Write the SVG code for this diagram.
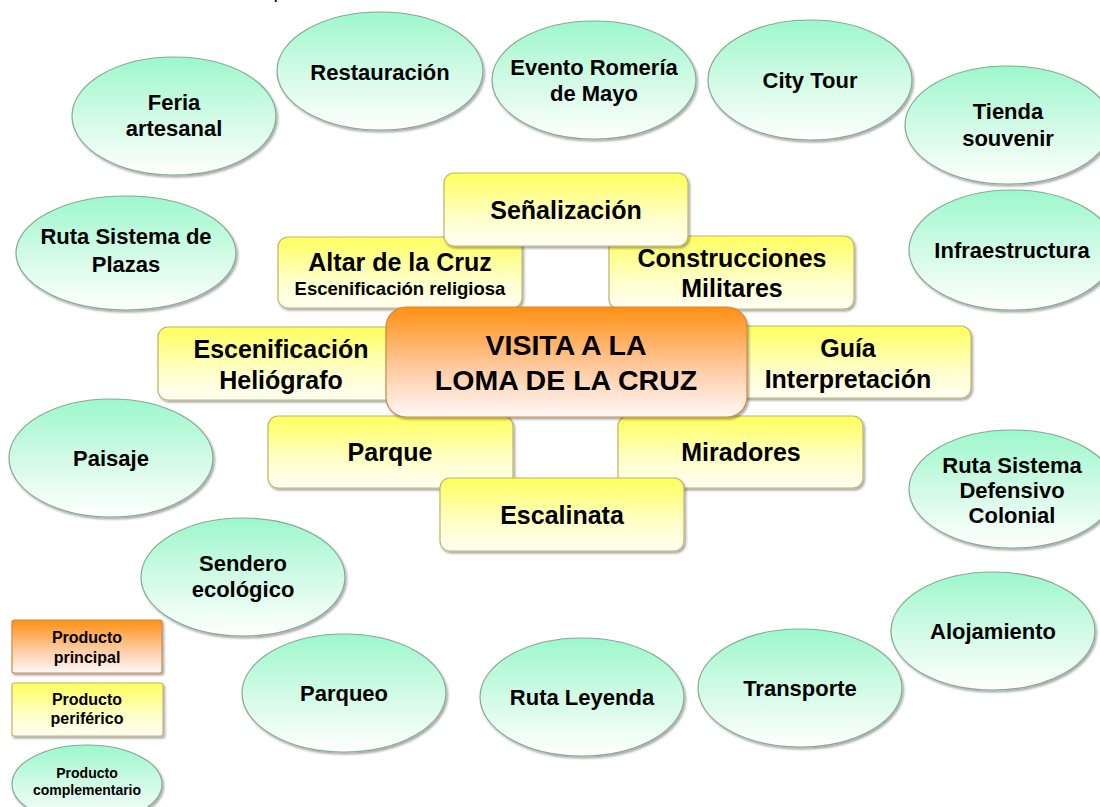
<svg xmlns="http://www.w3.org/2000/svg" width="1100" height="807" viewBox="0 0 1100 807">
<defs>
<linearGradient id="gGreen" x1="0" y1="0" x2="0" y2="1">
<stop offset="0" stop-color="#9cf8cc"/>
<stop offset="0.55" stop-color="#d6fbe8"/>
<stop offset="1" stop-color="#ffffff"/>
</linearGradient>
<linearGradient id="gYellow" x1="0" y1="0" x2="0" y2="1">
<stop offset="0" stop-color="#ffff5c"/>
<stop offset="0.6" stop-color="#ffffc8"/>
<stop offset="1" stop-color="#fffff4"/>
</linearGradient>
<linearGradient id="gOrange" x1="0" y1="0" x2="0" y2="1">
<stop offset="0" stop-color="#ff9012"/>
<stop offset="0.55" stop-color="#ffcaa0"/>
<stop offset="1" stop-color="#fff8f8"/>
</linearGradient>
<filter id="sh" x="-10%" y="-10%" width="125%" height="130%">
<feDropShadow dx="1.5" dy="2" stdDeviation="1.2" flood-color="#000" flood-opacity="0.35"/>
</filter>
<style>
.ell{fill:url(#gGreen);stroke:#86a994;stroke-width:1.2;filter:url(#sh)}
.yb{fill:url(#gYellow);stroke:#bdb56a;stroke-width:1.2;filter:url(#sh)}
.ob{fill:url(#gOrange);stroke:#c98a45;stroke-width:1.2;filter:url(#sh)}
text{font-family:"Liberation Sans",Arial,sans-serif;font-weight:bold;fill:#000;text-anchor:middle}
.t22{font-size:22px}
.t24{font-size:25px}
.t18{font-size:18.5px}
.t28{font-size:28.5px}
.t15{font-size:16px}
.t14{font-size:14px}
</style>
</defs>
<rect width="1100" height="807" fill="#fff"/>
<text x="279" y="-2" style="font-size:20px;font-weight:normal">p</text>
<g id="connectors"/>
<g id="feria"><ellipse class="ell" cx="174" cy="116" rx="102" ry="59"/><text class="t22" x="174" y="110">Feria</text><text class="t22" x="174" y="136">artesanal</text></g>
<g id="restauracion"><ellipse class="ell" cx="380" cy="71" rx="103" ry="59"/><text class="t22" x="380" y="80">Restauración</text></g>
<g id="romeria"><ellipse class="ell" cx="594" cy="80" rx="102" ry="59"/><text class="t22" x="594" y="75">Evento Romería</text><text class="t22" x="594" y="101">de Mayo</text></g>
<g id="citytour"><ellipse class="ell" cx="810" cy="80" rx="102" ry="60"/><text class="t22" x="810" y="88">City Tour</text></g>
<g id="tienda"><ellipse class="ell" cx="1008" cy="125" rx="103" ry="59"/><text class="t22" x="1008" y="119">Tienda</text><text class="t22" x="1008" y="146">souvenir</text></g>
<g id="plazas"><ellipse class="ell" cx="126" cy="253" rx="110" ry="57"/><text class="t22" x="126" y="244">Ruta Sistema de</text><text class="t22" x="126" y="272">Plazas</text></g>
<g id="infraestructura"><ellipse class="ell" cx="1012" cy="250" rx="103" ry="60"/><text class="t22" x="1012" y="258">Infraestructura</text></g>
<g id="paisaje"><ellipse class="ell" cx="111" cy="458" rx="102" ry="59"/><text class="t22" x="111" y="466">Paisaje</text></g>
<g id="defensivo"><ellipse class="ell" cx="1012" cy="489" rx="103" ry="59"/><text class="t22" x="1012" y="473">Ruta Sistema</text><text class="t22" x="1012" y="498">Defensivo</text><text class="t22" x="1012" y="523">Colonial</text></g>
<g id="sendero"><ellipse class="ell" cx="243" cy="577" rx="102" ry="59"/><text class="t22" x="243" y="571">Sendero</text><text class="t22" x="243" y="597">ecológico</text></g>
<g id="alojamiento"><ellipse class="ell" cx="993" cy="631" rx="102" ry="59"/><text class="t22" x="993" y="639">Alojamiento</text></g>
<g id="parqueo"><ellipse class="ell" cx="344" cy="693" rx="102" ry="59"/><text class="t22" x="344" y="701">Parqueo</text></g>
<g id="leyenda"><ellipse class="ell" cx="582" cy="697" rx="102" ry="59"/><text class="t22" x="582" y="705">Ruta Leyenda</text></g>
<g id="transporte"><ellipse class="ell" cx="800" cy="688" rx="102" ry="59"/><text class="t22" x="800" y="696">Transporte</text></g>
<g id="altar"><rect class="yb" x="278" y="237" width="244" height="71" rx="10"/><text class="t24" x="400" y="271">Altar de la Cruz</text><text class="t18" x="400" y="295">Escenificación religiosa</text></g>
<g id="construcciones"><rect class="yb" x="609" y="236" width="245" height="73" rx="10"/><text class="t24" x="732" y="267">Construcciones</text><text class="t24" x="732" y="297">Militares</text></g>
<g id="senalizacion"><rect class="yb" x="444" y="173" width="244" height="73" rx="10"/><text class="t24" x="566" y="219">Señalización</text></g>
<g id="heliografo"><rect class="yb" x="158" y="327" width="244" height="73" rx="10"/><text class="t24" x="281" y="358">Escenificación</text><text class="t24" x="281" y="389">Heliógrafo</text></g>
<g id="guia"><rect class="yb" x="727" y="326" width="244" height="72" rx="10"/><text class="t24" x="848" y="357">Guía</text><text class="t24" x="848" y="388">Interpretación</text></g>
<g id="parque"><rect class="yb" x="268" y="416" width="245" height="72" rx="10"/><text class="t24" x="390" y="461">Parque</text></g>
<g id="miradores"><rect class="yb" x="618" y="416" width="245" height="72" rx="10"/><text class="t24" x="741" y="461">Miradores</text></g>
<g id="escalinata"><rect class="yb" x="440" y="478" width="244" height="73" rx="10"/><text class="t24" x="562" y="524">Escalinata</text></g>
<g id="visita"><rect class="ob" x="386" y="307" width="361" height="110" rx="20"/><text class="t28" x="566" y="355">VISITA A LA</text><text class="t28" x="566" y="390">LOMA DE LA CRUZ</text></g>
<g id="legend-principal"><rect class="ob" x="12" y="620" width="150" height="53" rx="2"/><text class="t15" x="87" y="643">Producto</text><text class="t15" x="87" y="663">principal</text></g>
<g id="legend-periferico"><rect class="yb" x="12" y="683" width="151" height="53" rx="2"/><text class="t15" x="87" y="705">Producto</text><text class="t15" x="87" y="724">periférico</text></g>
<g id="legend-complementario"><ellipse class="ell" cx="87" cy="784" rx="75" ry="39"/><text class="t14" x="87" y="778">Producto</text><text class="t14" x="87" y="795">complementario</text></g>
</svg>
